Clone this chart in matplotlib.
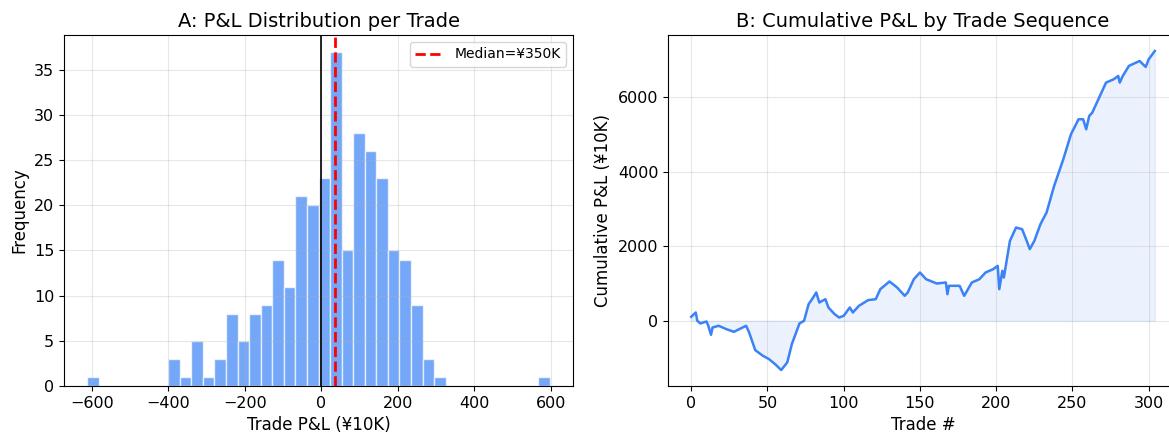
import numpy as np
import matplotlib
matplotlib.use('Agg')
import matplotlib.pyplot as plt

# histogram of per-trade P&L (units: 10K yen), 40 equal bins
bin_lo = -612
bin_hi = 597
counts = [1, 0, 0, 0, 0, 0, 0, 3, 1, 5, 1, 3, 8, 5, 8, 9, 14, 11, 21, 20,
          23, 37, 15, 28, 26, 23, 15, 14, 9, 3, 1, 0, 0, 0, 0, 0, 0, 0, 0, 1]
median_pnl = 35

# cumulative P&L
trade_no = [0, 3, 4, 6, 10, 11, 13, 14, 18, 23, 28, 36, 38, 42, 47, 51, 55, 59,
            63, 66, 71, 74, 77, 80, 82, 84, 88, 90, 94, 97, 100, 104, 106, 110,
            116, 121, 124, 130, 135, 140, 142, 146, 150, 154, 161, 167, 168, 169,
            176, 179, 184, 189, 193, 198, 201, 202, 204, 205, 209, 213, 217, 220,
            222, 225, 229, 233, 238, 244, 249, 254, 257, 259, 261, 263, 268, 272,
            277, 280, 281, 283, 287, 294, 298, 300, 304]
cum_pnl = [107, 223, 0, -71, -18, -107, -375, -180, -134, -223, -295, -134, -312,
           -786, -938, -1027, -1161, -1320, -1116, -625, -71, 0, 446, 625, 760,
           491, 580, 357, 179, 89, 134, 357, 223, 402, 554, 580, 848, 1054, 893,
           670, 760, 1116, 1295, 1116, 1000, 1027, 714, 938, 938, 670, 1027,
           1116, 1295, 1384, 1473, 848, 1340, 1160, 2143, 2500, 2455, 2143,
           1920, 2143, 2590, 2902, 3617, 4331, 5000, 5403, 5403, 5135, 5492,
           5581, 6028, 6385, 6474, 6564, 6385, 6564, 6832, 6965, 6805, 7010, 7233]

blue = '#3b82f6'

fig = plt.figure(figsize=(11.69, 4.46), dpi=100)
ax1 = fig.add_axes([64 / 1169, 60 / 446, 509 / 1169, 351 / 446])
ax2 = fig.add_axes([668 / 1169, 60 / 446, 510 / 1169, 351 / 446])

# A: histogram
edges = np.linspace(bin_lo, bin_hi, len(counts) + 1)
centers = (edges[:-1] + edges[1:]) / 2
ax1.hist(centers, bins=edges, weights=counts, color=blue, alpha=0.7,
         edgecolor='white')
ax1.axvline(0, color='black', lw=1.2)
ax1.axvline(median_pnl, color='red', ls='--', lw=2,
            label=f'Median=¥{median_pnl * 10}K')
ax1.set_title('A: P&L Distribution per Trade', fontsize=14)
ax1.set_xlabel('Trade P&L (¥10K)', fontsize=12)
ax1.set_ylabel('Frequency', fontsize=12)
ax1.tick_params(labelsize=11.5)
ax1.grid(alpha=0.3)
ax1.legend(fontsize=10)

# B: cumulative
ax2.plot(trade_no, cum_pnl, color=blue, lw=1.8)
ax2.fill_between(trade_no, 0, cum_pnl, color=blue, alpha=0.1)
ax2.set_title('B: Cumulative P&L by Trade Sequence', fontsize=14)
ax2.set_xlabel('Trade #', fontsize=12)
ax2.set_ylabel('Cumulative P&L (¥10K)', fontsize=12)
ax2.tick_params(labelsize=11.5)
ax2.grid(alpha=0.3)

fig.savefig('out.png', dpi=100)
